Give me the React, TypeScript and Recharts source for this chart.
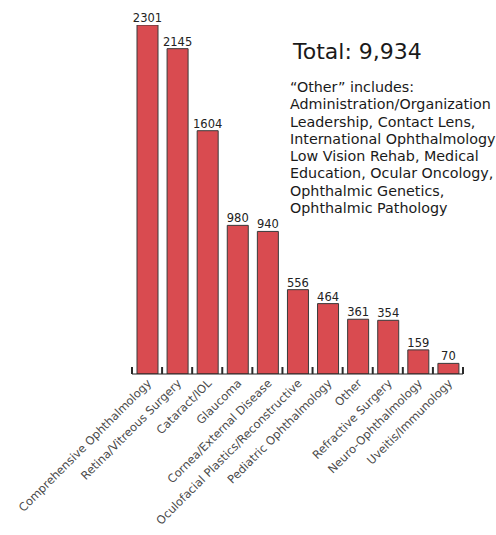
import { BarChart, Bar, XAxis, YAxis, LabelList } from "recharts";

const categories = [
  "Comprehensive Ophthalmology",
  "Retina/Vitreous Surgery",
  "Cataract/IOL",
  "Glaucoma",
  "Cornea/External Disease",
  "Oculofacial Plastics/Reconstructive",
  "Pediatric Ophthalmology",
  "Other",
  "Refractive Surgery",
  "Neuro-Ophthalmology",
  "Uveitis/Immunology",
];

const members = [2301, 2145, 1604, 980, 940, 556, 464, 361, 354, 159, 70];

const totalLabel = "Total: 9,934";

const otherNote = [
  "\u201cOther\u201d includes:",
  "Administration/Organization",
  "Leadership, Contact Lens,",
  "International Ophthalmology",
  "Low Vision Rehab, Medical",
  "Education, Ocular Oncology,",
  "Ophthalmic Genetics,",
  "Ophthalmic Pathology",
];

const data = categories.map((name, i) => ({ name, value: members[i] }));

const FONT = "'DejaVu Sans', sans-serif";
const W = 496;
const H = 535;
const margin = { top: 25, right: 33, left: 132, bottom: 0 };
const halfBand = (W - margin.left - margin.right) / categories.length / 2;

// slanted label + small upward tick marks on the band edges
function SlantTick(props: any) {
  const { x, y, payload, index } = props;
  const last = index === categories.length - 1;
  const left = x - halfBand;
  const right = x + halfBand;
  return (
    <g>
      <line x1={left} x2={left} y1={y} y2={y - 7} stroke="#2a2a2a" strokeWidth={2} />
      {last && (
        <line x1={right} x2={right} y1={y} y2={y - 7} stroke="#2a2a2a" strokeWidth={2} />
      )}
      <text
        transform={`translate(${x + 5},${y + 10}) rotate(-45)`}
        textAnchor="end"
        fontSize={11.5}
        fontFamily={FONT}
        fill="#4a4a4a"
      >
        {payload.value}
      </text>
    </g>
  );
}

export default function App() {
  return (
    <div
      style={{
        position: "absolute",
        left: 0,
        top: 0,
        width: W,
        height: H,
        background: "#fff",
        fontFamily: FONT,
      }}
    >
      <BarChart width={W} height={H} data={data} margin={margin} barSize={21}>
        <XAxis
          dataKey="name"
          height={161}
          interval={0}
          tickLine={false}
          tickSize={0}
          tickMargin={0}
          axisLine={{ stroke: "#222" }}
          tick={<SlantTick />}
        />
        <YAxis hide domain={[0, 2301]} allowDataOverflow />
        <Bar
          dataKey="value"
          fill="#d94b50"
          stroke="#3a3a3a"
          strokeWidth={1}
          isAnimationActive={false}
        >
          <LabelList
            dataKey="value"
            position="top"
            offset={3}
            fontSize={11.5}
            fontFamily={FONT}
            fill="#222"
          />
        </Bar>
      </BarChart>
      <div
        style={{
          position: "absolute",
          left: 293,
          top: 38,
          fontSize: 22,
          color: "#1a1a1a",
          lineHeight: "28px",
          whiteSpace: "nowrap",
        }}
      >
        {totalLabel}
      </div>
      <div
        style={{
          position: "absolute",
          left: 290,
          top: 79,
          fontSize: 14.3,
          lineHeight: "17.3px",
          color: "#1a1a1a",
          whiteSpace: "nowrap",
        }}
      >
        {otherNote.map((line) => (
          <div key={line}>{line}</div>
        ))}
      </div>
    </div>
  );
}
